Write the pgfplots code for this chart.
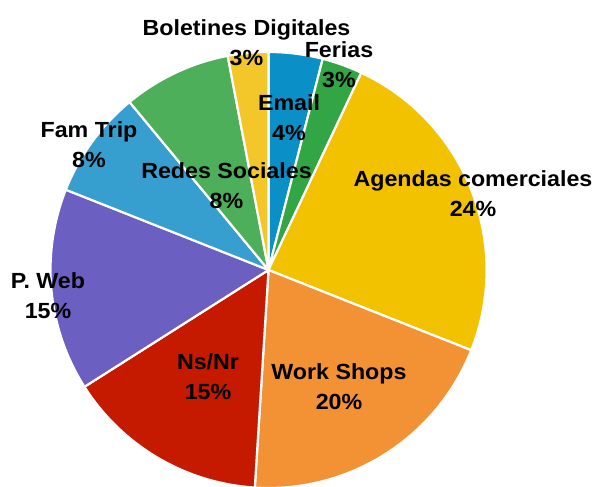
\documentclass[border=0pt]{standalone}
\usepackage{pgfplots}
\usepackage{pgfplotstable}
\pgfplotsset{compat=1.18}
\usepackage{fontspec}
\setmainfont[FakeStretch=1.06]{Liberation Sans}

\definecolor{cEmail}{HTML}{0A8FC6}
\definecolor{cFerias}{HTML}{32A545}
\definecolor{cAgendas}{HTML}{F2C200}
\definecolor{cWork}{HTML}{F39234}
\definecolor{cNsNr}{HTML}{C61A00}
\definecolor{cWeb}{HTML}{6C5FC2}
\definecolor{cFam}{HTML}{369FCF}
\definecolor{cRedes}{HTML}{4DAF5A}
\definecolor{cBol}{HTML}{F3C72A}

\tikzset{lbl/.style={font=\bfseries\fontsize{22}{30}\selectfont, align=center, text=black}}

% share of each medium, clockwise from the top
\pgfplotstableread[col sep=comma]{
label,value,color
Email,4,cEmail
Ferias,3,cFerias
Agendas comerciales,24,cAgendas
Work Shops,20,cWork
Ns/Nr,15,cNsNr
P. Web,15,cWeb
Fam Trip,8,cFam
Redes Sociales,8,cRedes
Boletines Digitales,3,cBol
}\piedata

\begin{document}
\begin{tikzpicture}
\begin{axis}[
  at={(0,0)}, anchor=south west,
  scale only axis, width=598bp, height=487bp,
  xmin=0, xmax=598, ymin=0, ymax=487,
  hide axis, clip=true,
]
\def\cx{268.5}\def\cy{217}\def\r{218}
\pgfplotstablegetrowsof{\piedata}
\pgfmathtruncatemacro\N{\pgfplotsretval-1}
\def\cum{0}
\pgfplotsforeachungrouped \i in {0,...,\N}{
  \pgfplotstablegetelem{\i}{value}\of\piedata \let\v\pgfplotsretval
  \pgfplotstablegetelem{\i}{color}\of\piedata \let\c\pgfplotsretval
  \pgfmathsetmacro\a{90-3.6*\cum}
  \pgfmathsetmacro\b{90-3.6*(\cum+\v)}
  \pgfmathsetmacro\sx{\cx+\r*cos(\a)}
  \pgfmathsetmacro\sy{\cy+\r*sin(\a)}
  \edef\tmp{\noexpand\fill[\c, draw=white, line width=2.2pt, line join=round]
    (axis cs:\cx,\cy) -- (axis cs:\sx,\sy)
    arc[start angle=\a, end angle=\b, radius=\r] -- cycle;}
  \tmp
  \pgfmathsetmacro\cum{\cum+\v}
}
\node[lbl] at (axis cs:246.5,444) {Boletines Digitales\\3\%};
\node[lbl] at (axis cs:339,422) {Ferias\\3\%};
\node[lbl] at (axis cs:289,369) {Email\\4\%};
\node[lbl] at (axis cs:473,293) {Agendas comerciales\\24\%};
\node[lbl] at (axis cs:226.5,301) {Redes Sociales\\8\%};
\node[lbl] at (axis cs:89,342) {Fam Trip\\8\%};
\node[lbl] at (axis cs:48,191) {P. Web\\15\%};
\node[lbl] at (axis cs:208,110) {Ns/Nr\\15\%};
\node[lbl] at (axis cs:339,100) {Work Shops\\20\%};
\end{axis}
\pgfresetboundingbox
\path[use as bounding box] (0,0) rectangle (598bp,487bp);
\end{tikzpicture}
\end{document}
